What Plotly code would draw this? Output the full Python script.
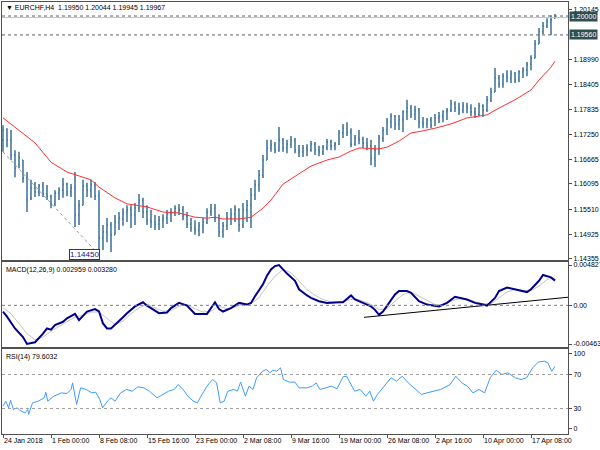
import plotly.graph_objects as go

symbol = "EURCHF,H4"

opens = [
    1.1712, 1.1735, 1.1712, 1.1677, 1.1653, 1.1665, 1.1623, 1.1577, 1.1600, 1.1591,
    1.1605, 1.1586, 1.1581, 1.1563, 1.1588, 1.1595, 1.1609, 1.1591, 1.1600, 1.1537,
    1.1560, 1.1605, 1.1595, 1.1607, 1.1581, 1.1484, 1.1498, 1.1514, 1.1491, 1.1521,
    1.1530, 1.1544, 1.1549, 1.1537, 1.1553, 1.1572, 1.1544, 1.1525, 1.1521, 1.1516,
    1.1525, 1.1530, 1.1539, 1.1544, 1.1553, 1.1549, 1.1535, 1.1516, 1.1507, 1.1502,
    1.1512, 1.1521, 1.1544, 1.1553, 1.1530, 1.1498, 1.1512, 1.1530, 1.1539, 1.1549,
    1.1514, 1.1549, 1.1560, 1.1584, 1.1607, 1.1630, 1.1665, 1.1693, 1.1700, 1.1688,
    1.1712, 1.1693, 1.1702, 1.1712, 1.1688, 1.1684, 1.1693, 1.1688, 1.1702, 1.1688,
    1.1684, 1.1693, 1.1707, 1.1698, 1.1702, 1.1728, 1.1739, 1.1730, 1.1702, 1.1716,
    1.1712, 1.1705, 1.1698, 1.1670, 1.1688, 1.1716, 1.1735, 1.1753, 1.1767, 1.1749,
    1.1758, 1.1777, 1.1786, 1.1772, 1.1781, 1.1753, 1.1749, 1.1758, 1.1746, 1.1763,
    1.1767, 1.1777, 1.1781, 1.1795, 1.1786, 1.1781, 1.1791, 1.1786, 1.1777, 1.1772,
    1.1791, 1.1781, 1.1805, 1.1823, 1.1856, 1.1842, 1.1860, 1.1856, 1.1865, 1.1851,
    1.1870, 1.1874, 1.1888, 1.1902, 1.1935, 1.1963, 1.1977, 1.1986, 1.1995,
]
highs = [
    1.1746, 1.1739, 1.1735, 1.1688, 1.1684, 1.1665, 1.1637, 1.1619, 1.1614, 1.1609,
    1.1614, 1.1607, 1.1584, 1.1595, 1.1602, 1.1623, 1.1612, 1.1609, 1.1637, 1.1572,
    1.1619, 1.1612, 1.1619, 1.1614, 1.1595, 1.1514, 1.1530, 1.1521, 1.1537, 1.1544,
    1.1553, 1.1560, 1.1560, 1.1565, 1.1586, 1.1577, 1.1560, 1.1549, 1.1537, 1.1535,
    1.1539, 1.1549, 1.1553, 1.1560, 1.1563, 1.1558, 1.1544, 1.1530, 1.1525, 1.1521,
    1.1530, 1.1553, 1.1563, 1.1563, 1.1539, 1.1521, 1.1544, 1.1553, 1.1560, 1.1553,
    1.1565, 1.1572, 1.1600, 1.1619, 1.1642, 1.1677, 1.1712, 1.1712, 1.1707, 1.1742,
    1.1716, 1.1712, 1.1721, 1.1716, 1.1700, 1.1700, 1.1702, 1.1709, 1.1707, 1.1698,
    1.1700, 1.1714, 1.1712, 1.1707, 1.1735, 1.1749, 1.1753, 1.1739, 1.1723, 1.1735,
    1.1719, 1.1716, 1.1712, 1.1700, 1.1723, 1.1742, 1.1763, 1.1774, 1.1770, 1.1770,
    1.1781, 1.1805, 1.1793, 1.1791, 1.1786, 1.1765, 1.1763, 1.1765, 1.1772, 1.1777,
    1.1781, 1.1786, 1.1805, 1.1802, 1.1798, 1.1800, 1.1798, 1.1795, 1.1788, 1.1798,
    1.1795, 1.1814, 1.1833, 1.1879, 1.1863, 1.1867, 1.1874, 1.1874, 1.1870, 1.1874,
    1.1881, 1.1893, 1.1909, 1.1944, 1.1972, 1.1986, 1.1995, 1.2002, 1.20044,
]
lows = [
    1.1684, 1.1695, 1.1665, 1.1625, 1.1646, 1.1612, 1.1544, 1.1572, 1.1579, 1.1581,
    1.1579, 1.1572, 1.1553, 1.1558, 1.1572, 1.1577, 1.1581, 1.1579, 1.1509, 1.1514,
    1.1560, 1.1579, 1.1577, 1.1572, 1.1445, 1.1456, 1.1474, 1.1451, 1.1491, 1.1502,
    1.1512, 1.1521, 1.1507, 1.1514, 1.1544, 1.1530, 1.1514, 1.1507, 1.1502, 1.1502,
    1.1507, 1.1516, 1.1521, 1.1535, 1.1537, 1.1525, 1.1507, 1.1498, 1.1491, 1.1488,
    1.1495, 1.1516, 1.1535, 1.1521, 1.1486, 1.1484, 1.1502, 1.1514, 1.1521, 1.1498,
    1.1507, 1.1521, 1.1507, 1.1572, 1.1591, 1.1623, 1.1665, 1.1684, 1.1681, 1.1684,
    1.1684, 1.1681, 1.1693, 1.1681, 1.1672, 1.1672, 1.1674, 1.1684, 1.1677, 1.1674,
    1.1677, 1.1688, 1.1688, 1.1688, 1.1700, 1.1716, 1.1721, 1.1695, 1.1698, 1.1702,
    1.1693, 1.1688, 1.1653, 1.1649, 1.1677, 1.1707, 1.1723, 1.1739, 1.1735, 1.1735,
    1.1730, 1.1758, 1.1763, 1.1758, 1.1739, 1.1739, 1.1739, 1.1739, 1.1744, 1.1751,
    1.1753, 1.1758, 1.1777, 1.1777, 1.1770, 1.1774, 1.1774, 1.1767, 1.1763, 1.1767,
    1.1765, 1.1777, 1.1800, 1.1823, 1.1833, 1.1833, 1.1846, 1.1844, 1.1844, 1.1846,
    1.1856, 1.1860, 1.1874, 1.1902, 1.1935, 1.1958, 1.1972, 1.1956, 1.19945,
]
closes = [
    1.1735, 1.1712, 1.1677, 1.1646, 1.1670, 1.1623, 1.1572, 1.1600, 1.1591, 1.1605,
    1.1586, 1.1581, 1.1563, 1.1588, 1.1595, 1.1609, 1.1591, 1.1600, 1.1537, 1.1560,
    1.1605, 1.1595, 1.1607, 1.1581, 1.1484, 1.1498, 1.1514, 1.1491, 1.1521, 1.1530,
    1.1544, 1.1549, 1.1537, 1.1553, 1.1572, 1.1544, 1.1525, 1.1521, 1.1516, 1.1525,
    1.1530, 1.1539, 1.1544, 1.1553, 1.1549, 1.1535, 1.1516, 1.1507, 1.1502, 1.1512,
    1.1521, 1.1544, 1.1553, 1.1530, 1.1498, 1.1512, 1.1530, 1.1539, 1.1549, 1.1514,
    1.1549, 1.1560, 1.1584, 1.1607, 1.1630, 1.1665, 1.1693, 1.1700, 1.1688, 1.1712,
    1.1693, 1.1702, 1.1712, 1.1688, 1.1684, 1.1693, 1.1688, 1.1702, 1.1688, 1.1684,
    1.1693, 1.1707, 1.1698, 1.1702, 1.1728, 1.1739, 1.1730, 1.1702, 1.1716, 1.1712,
    1.1705, 1.1698, 1.1670, 1.1688, 1.1716, 1.1735, 1.1753, 1.1767, 1.1749, 1.1758,
    1.1777, 1.1786, 1.1772, 1.1781, 1.1753, 1.1749, 1.1758, 1.1746, 1.1763, 1.1767,
    1.1777, 1.1781, 1.1795, 1.1786, 1.1781, 1.1791, 1.1786, 1.1777, 1.1772, 1.1791,
    1.1781, 1.1805, 1.1823, 1.1856, 1.1842, 1.1860, 1.1856, 1.1865, 1.1851, 1.1870,
    1.1874, 1.1888, 1.1902, 1.1935, 1.1963, 1.1977, 1.1986, 1.1991, 1.19967,
]

# moving average (red line)
ma_idx = [0, 4, 8, 12, 16, 19, 22, 24, 28, 31, 34, 36, 40, 44, 48, 51, 53, 55, 59, 62,
          65, 67, 70, 74, 77, 81, 84, 87, 89, 94, 96, 99, 102, 104, 108, 112, 116, 121,
          124, 128, 132, 134, 137, 138]
ma_vals = [1.1763, 1.1735, 1.1705, 1.1660, 1.1637, 1.1628, 1.1619, 1.1602, 1.1577, 1.1563,
           1.1558, 1.1556, 1.1544, 1.1542, 1.1532, 1.1530, 1.1532, 1.1528, 1.1528, 1.1532,
           1.1553, 1.1572, 1.1609, 1.1632, 1.1651, 1.1665, 1.1672, 1.1686, 1.1693, 1.1691,
           1.1695, 1.1709, 1.1728, 1.1731, 1.1739, 1.1749, 1.1763, 1.1770, 1.1786, 1.1805,
           1.1828, 1.1851, 1.1881, 1.1895]

# MACD main line
macd_idx = [0, 1, 3, 5, 6, 8, 10, 11, 12, 13, 15, 16, 18, 19, 20, 21, 23, 24, 25, 26,
            27, 28, 30, 31, 33, 35, 36, 39, 41, 42, 44, 46, 48, 51, 52, 53, 54, 55, 57, 59,
            61, 62, 63, 65, 66, 67, 68, 69, 70, 71, 73, 74, 76, 77, 79, 81, 84, 85, 87, 88,
            90, 92, 93, 94, 95, 96, 98, 99, 101, 102, 104, 106, 109, 111, 113, 116, 118, 120,
            121, 123, 124, 126, 129, 131, 132, 134, 135, 137, 138]
macd_vals = [-0.00074, -0.00135, -0.00277, -0.00380, -0.00463, -0.00442, -0.00339, -0.00277,
             -0.00291, -0.00236, -0.00197, -0.00156, -0.00103, -0.00177, -0.00126, -0.00074,
             -0.00045, -0.00074, -0.00217, -0.00277, -0.00277, -0.00236, -0.00143, -0.00094,
             -0.00013, 0.00037, -0.00004, -0.00094, -0.00086, -0.00033, 0.00029, -0.00004,
             -0.00103, -0.00103, -0.00033, 0.00037, -0.00045, -0.00074, -0.00033, 0.00029,
             0.00009, 0.00029, 0.00109, 0.00253, 0.00355, 0.00430, 0.00470, 0.004827, 0.00430,
             0.00380, 0.00294, 0.00192, 0.00118, 0.00089, 0.00049, 0.00029, 0.00037, 0.00037,
             0.00118, 0.00070, 0.00029, -0.00013, -0.00054, -0.00114, -0.00074, -0.00004,
             0.00131, 0.00171, 0.00171, 0.00151, 0.00049, 0.00009, -0.00013, 0.00029, 0.00103,
             0.00070, 0.00029, 0.00009, -0.00004, 0.00089, 0.00171, 0.00212, 0.00183, 0.00159,
             0.00192, 0.00294, 0.00363, 0.00335, 0.002959]

# MACD signal line
signal_idx = [0, 2, 4, 6, 8, 10, 12, 14, 16, 18, 20, 22, 24, 26, 28, 30, 32, 34, 36, 38,
              40, 42, 44, 46, 48, 50, 52, 54, 56, 58, 60, 62, 64, 66, 68, 70, 72, 74, 76, 78,
              80, 82, 84, 86, 88, 90, 92, 94, 96, 98, 100, 102, 104, 106, 108, 110, 112, 114,
              116, 118, 120, 122, 124, 126, 128, 130, 132, 134, 136, 138]
signal_vals = [-0.0003, -0.0010, -0.0022, -0.0034, -0.0041, -0.0038, -0.0031, -0.0025, -0.0019,
               -0.0014, -0.0012, -0.0008, -0.0008, -0.0016, -0.0023, -0.0019, -0.0010, -0.0003,
               0.00015, -0.0003, -0.0007, -0.0006, -0.0001, 0.0001, -0.0004, -0.0008, -0.0007,
               -0.0001, -0.0004, -0.0002, 0.0001, 0.0002, 0.0009, 0.0023, 0.0035, 0.0043,
               0.0039, 0.0029, 0.0019, 0.0012, 0.0007, 0.0004, 0.00035, 0.0006, 0.0008, 0.0005,
               0.0001, -0.0005, -0.0004, 0.0005, 0.0013, 0.0016, 0.0011, 0.0005, 0.0001, 0.0001,
               0.0005, 0.0008, 0.0007, 0.00045, 0.0002, 0.0002, 0.0009, 0.0016, 0.0019, 0.00175,
               0.00175, 0.0023, 0.0031, 0.00328]

# RSI(14)
rsi_idx = [0, 0.7, 1.4, 1.9, 2.6, 3.5, 4.5, 5.5, 6.2, 6.4, 7.4, 8.8, 10.3, 10.7, 11.2, 12.7,
           14.6, 16, 17, 17.4, 18.4, 19.4, 20.8, 22.2, 23.2, 24.2, 24.9, 26.1, 27, 28, 29.4,
           30.9, 32.3, 33.7, 35.2, 36.6, 38.5, 40, 41.4, 42.8, 43.8, 45, 46.2, 47.6, 48.6,
           49.5, 51, 52.4, 53.4, 54.3, 55.3, 56.2, 57.7, 58.6, 59.4, 60.6, 61.5, 62.5, 63.4,
           64.9, 65.8, 66.8, 67.4, 68.4, 69.4, 70.1, 71.6, 73, 74, 75.9, 77.3, 78.3, 79.2,
           80.7, 82.1, 83.5, 85, 85.9, 86.9, 87.9, 89.3, 90.7, 91.7, 92.6, 93.6, 94.6, 95.5,
           97, 98.4, 99.8, 101.3, 103.2, 104.6, 106, 107.5, 109.4, 111.8, 113.2, 114.7, 116.1,
           117.5, 119, 120.4, 121.8, 123.3, 124.7, 126.2, 128.1, 129.5, 130.9, 132.4, 133.8,
           135.3, 136.2, 137.2, 138]
rsi_vals = [32.8, 38.6, 30.8, 39.8, 28.8, 30.8, 26.9, 24.9, 28.8, 23.0, 36.7, 38.6, 42.6, 49.2,
            38.6, 44.5, 48.4, 47.7, 52.4, 60.2, 34.7, 54.3, 52.4, 48.4, 49.2, 40.6, 30.8, 38.6,
            42.6, 38.6, 48.4, 52.4, 50.4, 55.5, 54.3, 50.4, 42.6, 46.5, 50.4, 52.4, 58.2, 52.4,
            44.5, 38.6, 36.7, 44.5, 56.3, 64.1, 60.2, 36.7, 38.6, 50.4, 52.4, 50.4, 61.0, 44.5,
            56.3, 52.4, 66.1, 73.9, 75.9, 72.0, 75.1, 73.9, 77.8, 64.1, 61.0, 61.0, 54.3, 54.3,
            56.3, 60.2, 52.4, 54.3, 56.3, 53.1, 67.3, 68.0, 58.2, 50.4, 52.4, 44.5, 50.4, 38.6,
            46.5, 52.4, 58.2, 66.1, 62.2, 68.0, 60.2, 52.4, 46.5, 48.4, 50.4, 52.4, 58.2, 68.0,
            60.2, 56.3, 48.4, 52.4, 48.4, 66.1, 75.1, 70.0, 72.0, 66.1, 64.1, 66.1, 77.8, 84.5,
            85.7, 83.7, 73.9, 79.6032]

# right-axis price labels (1.19560 is covered by its highlighted level label)
price_ticks = [1.20145, 1.18990, 1.18405, 1.17835, 1.17250, 1.16665, 1.16095,
               1.15510, 1.14925, 1.14355]
macd_ticks = [0.004827, 0.0, -0.004632]
macd_ticktext = ["0.004827", "0.00", "-0.004632"]
rsi_tick_pos = [95, 70, 30, 6]
rsi_ticktext = ["100", "70", "30", "0"]
rsi_levels = [70, 30]
time_tick_idx = [0, 12, 24, 36, 48, 60, 72, 84, 96, 108, 120, 132]
time_labels = ["24 Jan 2018", "1 Feb 00:00", "8 Feb 08:00", "15 Feb 16:00", "23 Feb 00:00",
               "2 Mar 08:00", "9 Mar 16:00", "19 Mar 00:00", "26 Mar 08:00", "2 Apr 16:00",
               "10 Apr 00:00", "17 Apr 08:00"]
levels = [1.20000, 1.19560]
bid_level = 1.19967
low_idx, low_price = 24, 1.14450
price_trend_idx = [0, 24]
price_trend_vals = [1.1684, 1.1445]
macd_trend_idx = [90.25, 141.25]
macd_trend_vals = [-0.00144, 0.00097]

FONT = "Liberation Sans"
BAR = "#44789a"
FRAME = "#505050"
XR = [-0.25, 141.25]

bar_x = list(range(len(opens)))

fig = go.Figure()
fig.add_trace(go.Ohlc(x=bar_x, open=opens, high=highs, low=lows, close=closes,
                      increasing=dict(line=dict(color=BAR, width=1.6)),
                      decreasing=dict(line=dict(color=BAR, width=1.6)),
                      tickwidth=0.25, xaxis="x", yaxis="y", hoverinfo="skip"))
fig.add_trace(go.Scatter(x=ma_idx, y=ma_vals, mode="lines",
                         line=dict(color="#ff3030", width=1), xaxis="x", yaxis="y"))
fig.add_trace(go.Scatter(x=price_trend_idx, y=price_trend_vals, mode="lines",
                         line=dict(color="#9a9a9a", width=1, dash="dot"), xaxis="x", yaxis="y"))

fig.add_trace(go.Scatter(x=signal_idx, y=signal_vals, mode="lines",
                         line=dict(color="#c4c4c4", width=1), xaxis="x2", yaxis="y2"))
fig.add_trace(go.Scatter(x=macd_idx, y=macd_vals, mode="lines",
                         line=dict(color="#00008b", width=2), xaxis="x2", yaxis="y2"))
fig.add_trace(go.Scatter(x=macd_trend_idx, y=macd_trend_vals, mode="lines",
                         line=dict(color="#000000", width=1), xaxis="x2", yaxis="y2"))

fig.add_trace(go.Scatter(x=rsi_idx, y=rsi_vals, mode="lines",
                         line=dict(color="#3d9bff", width=1), xaxis="x3", yaxis="y3"))

shapes = []
for lv in levels:
    shapes.append(dict(type="line", xref="x domain", yref="y", x0=0, x1=1, y0=lv, y1=lv,
                       line=dict(color="#606060", width=1, dash="dot")))
shapes.append(dict(type="line", xref="x domain", yref="y", x0=0, x1=1, y0=bid_level,
                   y1=bid_level, line=dict(color="#c0c0c0", width=1)))
shapes.append(dict(type="line", xref="x2 domain", yref="y2", x0=0, x1=1, y0=0, y1=0,
                   line=dict(color="#808080", width=1, dash="dot")))
for lv in rsi_levels:
    shapes.append(dict(type="line", xref="x3 domain", yref="y3", x0=0, x1=1, y0=lv, y1=lv,
                       line=dict(color="#a0a0a0", width=1, dash="dot")))

tf = dict(family=FONT, size=7, color="#000000")
annotations = [
    dict(xref="x domain", yref="y domain", x=0.004, y=0.977, xanchor="left", yanchor="middle",
         showarrow=False, font=tf,
         text="\u25bc %s  %.5f %.5f %.5f %.5f" % (symbol, opens[-1], highs[-1], lows[-1], closes[-1])),
    dict(xref="x2 domain", yref="y2 domain", x=0.004, y=0.905, xanchor="left", yanchor="middle",
         showarrow=False, font=tf,
         text="MACD(12,26,9) %.6f %.6f" % (macd_vals[-1], signal_vals[-1])),
    dict(xref="x3 domain", yref="y3 domain", x=0.004, y=0.905, xanchor="left", yanchor="middle",
         showarrow=False, font=tf, text="RSI(14) %.4f" % rsi_vals[-1]),
    dict(xref="x", yref="y", x=low_idx, y=low_price, xanchor="right", yanchor="middle",
         showarrow=False, text="%.5f" % low_price, font=dict(family=FONT, size=8, color="#1a1a80"),
         bgcolor="#ffffff", bordercolor="#2a2ab0", borderwidth=1, borderpad=0, xshift=1),
]
for lv in levels:
    annotations.append(dict(xref="x domain", yref="y", x=1.0, y=lv, xanchor="left",
                            yanchor="middle", xshift=1, showarrow=False, text="%.5f" % lv,
                            font=dict(family=FONT, size=7, color="#ffffff"),
                            bgcolor="#2f4f4f", borderpad=1))

axis_common = dict(showgrid=False, zeroline=False, showline=True, linecolor=FRAME,
                   linewidth=1, mirror=True)

fig.update_layout(
    width=600, height=450,
    margin=dict(l=2, r=32, t=2, b=16),
    paper_bgcolor="#ffffff", plot_bgcolor="#ffffff",
    showlegend=False, hovermode=False,
    font=dict(family=FONT, size=7, color="#000000"),
    shapes=shapes, annotations=annotations,
    xaxis=dict(domain=[0, 1], anchor="y", range=XR, showticklabels=False, ticks="",
               rangeslider=dict(visible=False), **axis_common),
    xaxis2=dict(domain=[0, 1], anchor="y2", range=XR, showticklabels=False, ticks="",
                **axis_common),
    xaxis3=dict(domain=[0, 1], anchor="y3", range=XR, tickmode="array",
                tickvals=time_tick_idx, ticktext=time_labels, ticks="outside", ticklen=3,
                tickcolor=FRAME, ticklabelposition="outside right", tickangle=0,
                tickfont=dict(family=FONT, size=7, color="#000000"), **axis_common),
    yaxis=dict(domain=[0.40278, 1.0], anchor="x", side="right", range=[1.14325, 1.20326],
               tickmode="array", tickvals=price_ticks,
               ticktext=["%.5f" % v for v in price_ticks], ticks="outside", ticklen=3,
               tickcolor=FRAME, automargin=False,
               tickfont=dict(family=FONT, size=7, color="#000000"), **axis_common),
    yaxis2=dict(domain=[0.20139, 0.39815], anchor="x2", side="right",
                range=[-0.00499, 0.00519], tickmode="array", tickvals=macd_ticks,
                ticktext=macd_ticktext, ticks="outside", ticklen=3, tickcolor=FRAME,
                automargin=False, tickfont=dict(family=FONT, size=7, color="#000000"),
                **axis_common),
    yaxis3=dict(domain=[0.0, 0.19676], anchor="x3", side="right", range=[0, 100],
                tickmode="array", tickvals=rsi_tick_pos, ticktext=rsi_ticktext,
                ticks="outside", ticklen=3, tickcolor=FRAME, automargin=False,
                tickfont=dict(family=FONT, size=7, color="#000000"), **axis_common),
)

fig.write_html("out.html", config={"displayModeBar": False},
               post_script="document.body.style.margin='0';document.body.style.overflow='hidden';")
